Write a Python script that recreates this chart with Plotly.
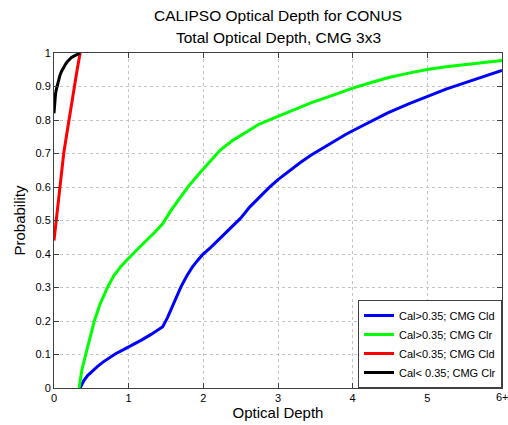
import plotly.graph_objects as go

# ---- data ----
blue_x = [0.35, 0.40, 0.45, 0.50, 0.58, 0.66, 0.75, 0.83, 0.90, 1.05, 1.17, 1.30, 1.456, 1.52, 1.58, 1.64, 1.70, 1.78, 1.85, 1.92, 1.99, 2.10, 2.25, 2.36, 2.41, 2.50, 2.62, 2.75, 2.88, 3.00, 3.15, 3.30, 3.44, 3.60, 3.75, 3.90, 4.00, 4.25, 4.47, 4.75, 5.00, 5.25, 5.50, 5.75, 6.00]
blue_y = [0.0, 0.022, 0.037, 0.048, 0.064, 0.078, 0.092, 0.103, 0.111, 0.128, 0.143, 0.160, 0.183, 0.210, 0.240, 0.272, 0.302, 0.335, 0.360, 0.380, 0.398, 0.420, 0.452, 0.476, 0.487, 0.507, 0.540, 0.570, 0.598, 0.622, 0.648, 0.673, 0.695, 0.717, 0.737, 0.756, 0.768, 0.796, 0.821, 0.848, 0.871, 0.892, 0.911, 0.930, 0.948]

green_x = [0.336, 0.35, 0.37, 0.40, 0.426, 0.48, 0.54, 0.62, 0.716, 0.80, 0.896, 0.98, 1.06, 1.20, 1.35, 1.456, 1.56, 1.68, 1.80, 1.96, 2.10, 2.23, 2.40, 2.545, 2.75, 3.00, 3.25, 3.44, 3.75, 4.00, 4.25, 4.47, 4.75, 5.00, 5.25, 5.50, 5.75, 6.00]
green_y = [0.0, 0.025, 0.050, 0.078, 0.100, 0.150, 0.200, 0.252, 0.300, 0.335, 0.363, 0.383, 0.400, 0.432, 0.465, 0.490, 0.528, 0.566, 0.602, 0.644, 0.680, 0.711, 0.740, 0.761, 0.788, 0.811, 0.834, 0.851, 0.875, 0.895, 0.912, 0.926, 0.940, 0.951, 0.959, 0.966, 0.972, 0.978]

red_x = [0.0, 0.015, 0.03, 0.05, 0.075, 0.10, 0.13, 0.165, 0.20, 0.235, 0.27, 0.31, 0.35]
red_y = [0.44, 0.47, 0.50, 0.55, 0.60, 0.65, 0.70, 0.75, 0.80, 0.85, 0.90, 0.95, 1.00]

black_x = [0.0, 0.005, 0.01, 0.02, 0.03, 0.045, 0.06, 0.08, 0.10, 0.125, 0.15, 0.175, 0.20, 0.23, 0.26, 0.30, 0.35]
black_y = [0.82, 0.845, 0.86, 0.877, 0.89, 0.906, 0.92, 0.934, 0.945, 0.956, 0.965, 0.973, 0.98, 0.986, 0.99, 0.995, 1.00]

names = ["Cal>0.35; CMG Cld", "Cal>0.35; CMG Clr", "Cal<0.35; CMG Cld", "Cal< 0.35; CMG Clr"]
colors = ["#0000ff", "#00ff00", "#ff0000", "#000000"]

x_tickvals = [0, 1, 2, 3, 4, 5, 6]
x_ticktext = ["0", "1", "2", "3", "4", "5", "6+"]
y_tickvals = [0, 0.1, 0.2, 0.3, 0.4, 0.5, 0.6, 0.7, 0.8, 0.9, 1]
y_ticktext = ["0", "0.1", "0.2", "0.3", "0.4", "0.5", "0.6", "0.7", "0.8", "0.9", "1"]

title_lines = ["CALIPSO Optical Depth for CONUS", "Total Optical Depth, CMG 3x3"]

FONT = "Liberation Sans, Arial, Helvetica, sans-serif"

fig = go.Figure()
for xs, ys, nm, c in zip([blue_x, green_x, red_x, black_x], [blue_y, green_y, red_y, black_y], names, colors):
    fig.add_trace(go.Scatter(x=xs, y=ys, mode="lines", name=nm,
                             line=dict(color=c, width=3)))

axis_common = dict(showline=True, linecolor="#404040", linewidth=1, mirror="ticks",
                   ticks="inside", ticklen=5, tickcolor="#404040",
                   showgrid=True, gridcolor="#c4c4c4", griddash="dot", gridwidth=1,
                   zeroline=False, tickfont=dict(family=FONT, size=11, color="black"))

# last x tick label drawn as annotation so it is not dropped at the figure edge
x_labels_axis = x_ticktext[:-1] + [""]

fig.update_layout(
    width=508, height=425,
    margin=dict(l=54, r=6, t=53, b=37),
    paper_bgcolor="white", plot_bgcolor="white",
    font=dict(family=FONT, color="black"),
    xaxis=dict(range=[0, 6], tickvals=x_tickvals, ticktext=x_labels_axis,
               title=dict(text="Optical Depth", font=dict(family=FONT, size=15), standoff=4),
               **axis_common),
    yaxis=dict(range=[0, 1], tickvals=y_tickvals, ticktext=y_ticktext,
               title=dict(text="Probability", font=dict(family=FONT, size=15), standoff=6),
               **axis_common),
    legend=dict(x=1, y=0, xanchor="right", yanchor="bottom",
                bgcolor="white", bordercolor="#404040", borderwidth=1,
                font=dict(family=FONT, size=11), itemwidth=30, tracegroupgap=0),
    showlegend=True,
)

fig.add_annotation(x=x_tickvals[-1], xref="x", y=0, yref="paper", yshift=-1,
                   text=x_ticktext[-1], showarrow=False, xanchor="center", yanchor="top",
                   font=dict(family=FONT, size=11, color="black"))

for i, t in enumerate(title_lines):
    fig.add_annotation(x=0.5, xref="paper", y=1, yref="paper", text=t, showarrow=False,
                       font=dict(family=FONT, size=15.5, color="black"),
                       xanchor="center", yanchor="middle",
                       yshift=53 - (15 + 22 * i))

fig.write_html("out.html")
